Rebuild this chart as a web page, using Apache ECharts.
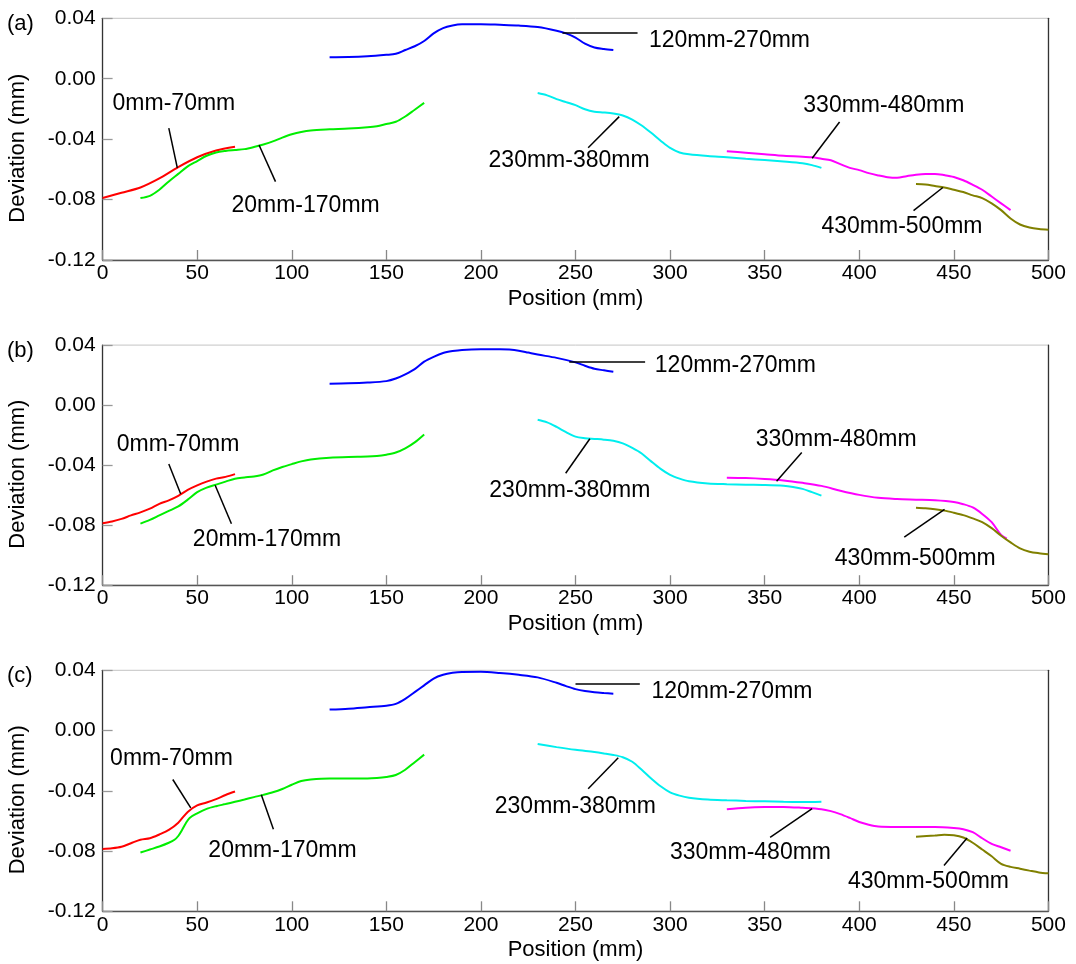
<!DOCTYPE html>
<html>
<head>
<meta charset="utf-8">
<script src="https://cdn.jsdelivr.net/npm/echarts@6/dist/echarts.min.js"></script>
<style>
html,body{margin:0;padding:0;background:#fff;}
#chart{width:1076px;height:964px;}
</style>
</head>
<body>
<div id="chart"></div>
<script>
// ---------- DATA ----------
const panelNames = ['(a)', '(b)', '(c)'];
const segmentNames = ['0mm-70mm', '20mm-170mm', '120mm-270mm', '230mm-380mm', '330mm-480mm', '430mm-500mm'];
const xTicks = [0, 50, 100, 150, 200, 250, 300, 350, 400, 450, 500];
const yTicks = [-0.12, -0.08, -0.04, 0.00, 0.04];

// Panel (a)
const redA = [[0,-0.079],[10,-0.0755],[20,-0.072],[30,-0.066],[40,-0.0585],[50,-0.052],[60,-0.0475],[70,-0.045]];
const greenA = [[20,-0.079],[25,-0.0775],[30,-0.0735],[35,-0.068],[40,-0.063],[45,-0.058],[50,-0.0545],[55,-0.051],[60,-0.0488],[65,-0.0478],[70,-0.0472],[75,-0.0466],[80,-0.0452],[85,-0.0435],[90,-0.0415],[95,-0.039],[100,-0.0368],[105,-0.0352],[110,-0.0342],[120,-0.0335],[130,-0.033],[140,-0.0322],[145,-0.0315],[150,-0.030],[155,-0.0285],[160,-0.025],[165,-0.0205],[170,-0.016]];
const blueA = [[120,0.0142],[130,0.0143],[140,0.0148],[150,0.0158],[155,0.0165],[160,0.019],[165,0.0215],[170,0.025],[175,0.030],[180,0.0335],[185,0.0352],[190,0.036],[200,0.0361],[210,0.0357],[220,0.0352],[230,0.0342],[240,0.0318],[245,0.030],[250,0.0272],[255,0.0232],[260,0.0207],[265,0.0197],[270,0.019]];
const cyanA = [[230,-0.0095],[235,-0.011],[240,-0.0135],[245,-0.0155],[250,-0.0175],[255,-0.0202],[260,-0.0218],[265,-0.0223],[270,-0.023],[275,-0.0243],[280,-0.027],[285,-0.031],[290,-0.0358],[295,-0.041],[300,-0.0458],[305,-0.0488],[310,-0.050],[320,-0.0512],[330,-0.052],[340,-0.053],[350,-0.0538],[360,-0.0548],[370,-0.056],[375,-0.0572],[380,-0.059]];
const magentaA = [[330,-0.048],[340,-0.049],[350,-0.050],[360,-0.051],[370,-0.0517],[375,-0.052],[380,-0.053],[385,-0.054],[390,-0.0565],[395,-0.059],[400,-0.0605],[405,-0.0625],[410,-0.064],[415,-0.0652],[420,-0.0656],[425,-0.0645],[430,-0.0635],[435,-0.063],[440,-0.063],[445,-0.0638],[450,-0.065],[455,-0.0672],[460,-0.0702],[465,-0.0735],[470,-0.078],[475,-0.0825],[480,-0.087]];
const oliveA = [[430,-0.0697],[435,-0.070],[440,-0.071],[445,-0.072],[450,-0.0735],[455,-0.075],[460,-0.0772],[465,-0.079],[470,-0.0825],[475,-0.087],[480,-0.0925],[485,-0.0965],[490,-0.0985],[495,-0.0995],[500,-0.100]];
const labelPosA = [[37.7,-0.0164],[107.3,-0.0842],[331.4,0.0254],[246.6,-0.0541],[413,-0.018],[422.6,-0.0979]];
const leadersA = [[[35,-0.0327],[39.5,-0.059]],[[82.7,-0.0439],[91.4,-0.0681]],[[243.1,0.0304],[282.8,0.0304]],[[273.1,-0.0251],[256.7,-0.0457]],[[389.6,-0.0286],[375.1,-0.0526]],[[444.2,-0.072],[428.7,-0.0873]]];

// Panel (b)
const redB = [[0,-0.0787],[5,-0.0775],[10,-0.0758],[15,-0.0735],[20,-0.0715],[25,-0.069],[30,-0.0658],[35,-0.0635],[40,-0.0605],[45,-0.0565],[50,-0.0535],[55,-0.051],[60,-0.049],[65,-0.0478],[70,-0.046]];
const greenB = [[20,-0.079],[25,-0.0765],[30,-0.0735],[35,-0.0705],[40,-0.0675],[45,-0.063],[50,-0.058],[55,-0.055],[60,-0.053],[65,-0.051],[70,-0.049],[75,-0.0482],[80,-0.0475],[85,-0.0462],[90,-0.0435],[95,-0.0412],[100,-0.0393],[105,-0.0375],[110,-0.0362],[120,-0.035],[130,-0.0345],[140,-0.0343],[145,-0.0339],[150,-0.033],[155,-0.0316],[160,-0.0288],[165,-0.0248],[170,-0.0195]];
const blueB = [[120,0.0143],[130,0.0145],[140,0.0150],[150,0.016],[155,0.0177],[160,0.0205],[165,0.024],[170,0.029],[175,0.0322],[180,0.0347],[185,0.036],[190,0.0368],[200,0.0372],[210,0.0372],[215,0.037],[220,0.0363],[225,0.035],[230,0.0337],[240,0.0315],[250,0.0285],[255,0.0262],[260,0.0242],[265,0.0232],[270,0.0222]];
const cyanB = [[230,-0.0098],[235,-0.0115],[240,-0.0145],[245,-0.018],[250,-0.021],[255,-0.022],[260,-0.0225],[265,-0.023],[270,-0.0238],[275,-0.0255],[280,-0.0285],[285,-0.0322],[290,-0.0375],[295,-0.0425],[300,-0.0465],[305,-0.049],[310,-0.0508],[320,-0.0522],[330,-0.0527],[340,-0.053],[350,-0.0532],[360,-0.0537],[365,-0.0545],[370,-0.0558],[375,-0.058],[380,-0.0603]];
const magentaB = [[330,-0.0484],[340,-0.0486],[350,-0.0492],[360,-0.0502],[370,-0.0518],[380,-0.0538],[390,-0.057],[400,-0.0598],[410,-0.0618],[420,-0.0626],[430,-0.063],[440,-0.0634],[450,-0.0645],[455,-0.066],[460,-0.0682],[465,-0.0725],[470,-0.078],[475,-0.0865],[478,-0.089]];
const oliveB = [[430,-0.0684],[435,-0.0688],[440,-0.0694],[445,-0.0703],[450,-0.0717],[455,-0.0733],[460,-0.0755],[465,-0.078],[470,-0.082],[475,-0.087],[480,-0.0915],[485,-0.0955],[490,-0.0977],[495,-0.0987],[500,-0.0993]];
const labelPosB = [[39.9,-0.0264],[86.9,-0.0895],[334.5,0.0264],[247,-0.0573],[387.8,-0.0229],[429.6,-0.1021]];
const leadersB = [[[35,-0.0392],[41.3,-0.0592]],[[59.5,-0.0534],[68.1,-0.0791]],[[246.7,0.0292],[286.8,0.0292]],[[257.6,-0.0224],[244.8,-0.0454]],[[369.6,-0.0316],[356.3,-0.0507]],[[445.1,-0.0695],[423.8,-0.0879]]];

// Panel (c)
const redC = [[0,-0.0786],[5,-0.0782],[10,-0.0772],[15,-0.0748],[20,-0.0725],[25,-0.0715],[30,-0.069],[35,-0.066],[40,-0.0612],[45,-0.054],[50,-0.0497],[55,-0.0478],[60,-0.0455],[65,-0.0428],[70,-0.0405]];
const greenC = [[20,-0.081],[25,-0.079],[30,-0.077],[35,-0.0745],[38,-0.0725],[40,-0.070],[42,-0.066],[44,-0.0615],[46,-0.058],[50,-0.055],[55,-0.052],[60,-0.0502],[65,-0.0488],[70,-0.0473],[75,-0.0458],[80,-0.0442],[85,-0.0427],[90,-0.041],[95,-0.0388],[100,-0.036],[105,-0.0335],[110,-0.0325],[120,-0.0318],[130,-0.0318],[140,-0.0318],[145,-0.0315],[150,-0.0308],[155,-0.0295],[160,-0.026],[165,-0.021],[170,-0.016]];
const blueC = [[120,0.0139],[130,0.0145],[140,0.0155],[150,0.0165],[155,0.0177],[160,0.021],[165,0.0255],[170,0.030],[175,0.0345],[180,0.037],[185,0.0383],[190,0.0389],[200,0.039],[210,0.0382],[220,0.037],[230,0.0353],[240,0.0317],[245,0.0295],[250,0.0275],[255,0.0262],[260,0.0254],[265,0.0249],[270,0.0245]];
const cyanC = [[230,-0.009],[240,-0.011],[250,-0.0128],[260,-0.0143],[265,-0.0152],[270,-0.0162],[275,-0.0177],[280,-0.0207],[285,-0.026],[290,-0.0318],[295,-0.037],[300,-0.041],[305,-0.0432],[310,-0.0446],[320,-0.0458],[330,-0.0463],[340,-0.0467],[350,-0.047],[360,-0.0473],[370,-0.0474],[380,-0.0472]];
const magentaC = [[330,-0.0523],[340,-0.0513],[350,-0.0508],[360,-0.0507],[370,-0.0513],[380,-0.0522],[385,-0.0535],[390,-0.0555],[395,-0.058],[400,-0.0607],[405,-0.0625],[410,-0.0637],[420,-0.064],[430,-0.064],[440,-0.064],[450,-0.0647],[455,-0.0655],[460,-0.0675],[465,-0.0715],[470,-0.0752],[475,-0.0775],[480,-0.0798]];
const oliveC = [[430,-0.0705],[440,-0.0697],[445,-0.0692],[450,-0.0695],[455,-0.071],[460,-0.0745],[465,-0.079],[470,-0.0835],[475,-0.0885],[480,-0.0905],[485,-0.0917],[490,-0.093],[495,-0.0942],[500,-0.0948]];
const labelPosC = [[36.4,-0.0188],[95.1,-0.080],[332.7,0.0258],[249.9,-0.0508],[342.5,-0.0812],[436.6,-0.100]];
const leadersC = [[[37.1,-0.0325],[46.6,-0.0514]],[[83.9,-0.0427],[90.3,-0.0656]],[[250,0.0311],[284,0.0311]],[[272.6,-0.018],[256.7,-0.0386]],[[375.1,-0.0519],[352.9,-0.0709]],[[457,-0.0713],[444.8,-0.0896]]];

const colors = ['#ff0000', '#00ee00', '#0000ff', '#00eeee', '#ff00ff', '#808000'];

// ---------- CHART ----------
const panels = [
  {curves:[redA,greenA,blueA,cyanA,magentaA,oliveA], labels:labelPosA, leaders:leadersA},
  {curves:[redB,greenB,blueB,cyanB,magentaB,oliveB], labels:labelPosB, leaders:leadersB},
  {curves:[redC,greenC,blueC,cyanC,magentaC,oliveC], labels:labelPosC, leaders:leadersC}
];
const gridBoxes = [
  {top:18.3, height:241.7},
  {top:345.1, height:240.1},
  {top:670.3, height:241}
];
const FONT = 'Liberation Sans, Arial, sans-serif';

const grid = [], xAxis = [], yAxis = [], series = [], graphic = [];
gridBoxes.forEach((g, i) => {
  grid.push({left:102.6, width:945.8, top:g.top, height:g.height, show:true, borderColor:'#c4c4c4', borderWidth:1, backgroundColor:'#ffffff'});
  xAxis.push({
    type:'value', gridIndex:i, min:0, max:500, interval:50,
    axisLine:{show:true, onZero:false, lineStyle:{color:'#555', width:1.3}},
    axisTick:{show:true, inside:true, length:10, lineStyle:{color:'#888', width:1.3}},
    axisLabel:{show:true, margin:3, fontSize:21, color:'#000', fontFamily:FONT},
    splitLine:{show:false},
    name:'Position (mm)', nameLocation:'middle', nameGap:28,
    nameTextStyle:{fontSize:22, color:'#000', fontFamily:FONT}
  });
  yAxis.push({
    type:'value', gridIndex:i, min:-0.12, max:0.04, interval:0.04,
    axisLine:{show:true, onZero:false, lineStyle:{color:'#333', width:1.3}},
    axisTick:{show:true, inside:true, length:10, lineStyle:{color:'#999', width:1.3}},
    axisLabel:{show:true, margin:7, fontSize:21, color:'#000', fontFamily:FONT,
      formatter: v => (Math.abs(v) < 1e-9 ? '0.00' : v.toFixed(2))},
    splitLine:{show:false}
  });
  const p = panels[i];
  p.curves.forEach((c, k) => {
    series.push({
      type:'line', xAxisIndex:i, yAxisIndex:i, data:c, showSymbol:false, smooth:0.3,
      lineStyle:{color:colors[k], width:2}, silent:true, z:3
    });
  });
  // leader lines
  series.push({
    type:'line', xAxisIndex:i, yAxisIndex:i, data:[], silent:true,
    markLine:{
      silent:true, symbol:['none','none'], animation:false,
      label:{show:false},
      lineStyle:{color:'#000', width:1.5, type:'solid'},
      data:p.leaders.map(seg => [{coord:seg[0]}, {coord:seg[1]}])
    }
  });
  // annotation texts (custom series placed through the axes)
  series.push({
    type:'custom', xAxisIndex:i, yAxisIndex:i, silent:true, z:5,
    data:p.labels.map((pos, k) => [pos[0], pos[1], k]),
    renderItem: (params, api) => {
      const pt = api.coord([api.value(0), api.value(1)]);
      return {type:'text', x:pt[0], y:pt[1],
        style:{text:segmentNames[api.value(2)], fill:'#000', fontSize:23, fontFamily:FONT,
          align:'center', verticalAlign:'middle'}};
    }
  });
  // panel label
  graphic.push({type:'text', left:7, top:g.top - 5, style:{text:panelNames[i], fontSize:22, fill:'#000', fontFamily:FONT}});
  // y axis name
  graphic.push({type:'text', x:18, y:g.top + g.height/2 + 9, rotation:Math.PI/2,
    style:{text:'Deviation (mm)', fontSize:22, fill:'#000', fontFamily:FONT, align:'center', verticalAlign:'middle'}});
});
// right frame lines (dark) via extra y axes
gridBoxes.forEach((g, i) => {
  yAxis.push({type:'value', gridIndex:i, position:'right', min:-0.12, max:0.04,
    axisLine:{show:true, onZero:false, lineStyle:{color:'#333', width:1.3}},
    axisTick:{show:false}, axisLabel:{show:false}, splitLine:{show:false}});
});

const chart = echarts.init(document.getElementById('chart'), null, {renderer:'canvas'});
chart.setOption({
  animation:false,
  backgroundColor:'#ffffff',
  grid, xAxis, yAxis, series, graphic
});
</script>
</body>
</html>
